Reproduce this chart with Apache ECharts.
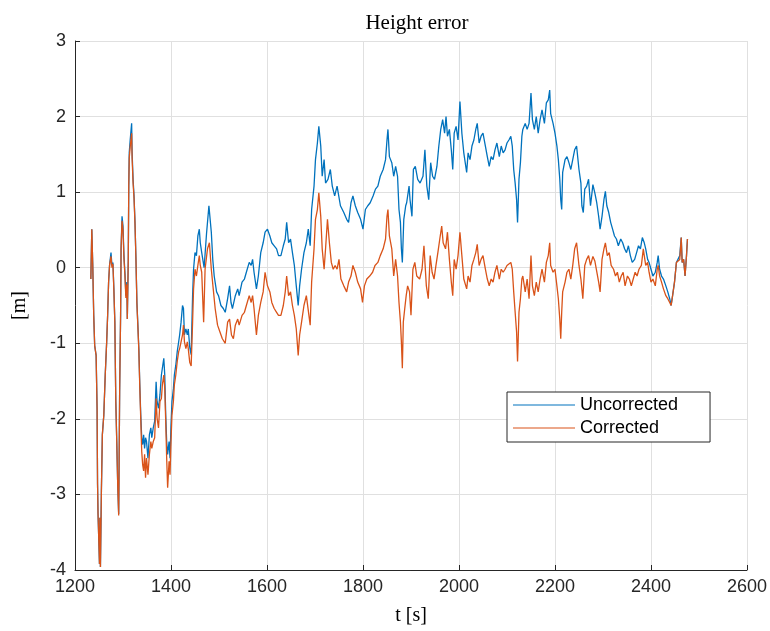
<!DOCTYPE html>
<html><head><meta charset="utf-8">
<script src="https://cdn.jsdelivr.net/npm/echarts@6/dist/echarts.min.js"></script>
<style>html,body{margin:0;padding:0;background:#fff}#c{width:770px;height:631px}</style>
</head><body><div id="c"></div>
<script>
// Time stamps [s] and height errors [m]
const tU = [1233,1235,1237,1239,1241,1244,1246,1247,1248,1251,1252,1253,1255,1257,1260,1263,1266,1268,1270,1272,1275,1277,1279,1281,1283,1285,1287,1289,1291,1292,1293,1295,1296,1298,1300,1302,1304,1306,1308,1309,1311,1312,1313,1315,1318,1319,1321,1323,1325,1327,1329,1331,1333,1335,1337,1339,1341,1343,1345,1347,1349,1352,1355,1358,1360,1363,1366,1369,1371,1374,1377,1380,1382,1385,1387,1389,1391,1393,1396,1398,1400,1402,1405,1407,1410,1413,1416,1418,1421,1424,1426,1428,1431,1434,1436,1439,1442,1445,1447,1450,1453,1456,1459,1461,
1464,1469,1474,1479,1484,1487,1490,1495,1499,1504,1509,1513,1518,1522,1525,1528,1534,1539,1542,1548,1553,1557,1563,1567,1570,1573,1578,1582,1587,1592,1596,1601,1606,1610,1615,1620,1624,1629,1634,1638,1641,1645,1649,1653,1657,1661,1665,1668,1672,1677,1682,1686,1690,1693,1698,1701,1705,1708,1712,1715,1719,1722,1727,1732,1736,1741,
1746,1753,1760,1766,1770,1775,1779,1784,1789,1795,1800,1805,1810,1815,1821,1826,1831,1836,1842,1847,1850,1852,1855,1860,1864,1868,1872,1875,1878,1880,1882,1885,1889,1891,1896,1898,1902,1905,1909,1914,1919,1925,1929,1933,1937,1941,1945,1949,1954,1958,1962,1966,1970,1973,1976,1980,1984,1987,1990,1994,1998,2002,2006,2010,2016,
2019,2023,2027,2031,2035,2038,2042,2046,2050,2055,2059,2063,2067,2071,2075,2079,2084,2088,2092,2096,2100,2104,2108,2111,2114,2117,2120,2122,2125,2128,2131,2133,2138,2142,2146,2150,2153,2157,2161,2165,2169,2173,2178,2182,2186,2189,2191,2196,2200,2204,2207,2210,2212,2214,2216,2221,2225,2229,2233,2237,2241,2245,2250,2254,2256,2259,2262,2266,2270,2274,2279,2283,2287,
2291,2294,2298,2302,2305,2308,2312,2316,2320,2324,2328,2332,2337,2341,2345,2349,2353,2357,2361,2366,2370,2374,2378,2382,2386,2389,2393,2396,2400,2404,2409,2413,2415,2418,2422,2426,2431,2435,2439,2442,2445,2449,2453,2457,2460,2463,2465,2468,2471,2474,2476];
const uncorrected = [-0.15,0.51,0.03,-0.63,-1.03,-1.16,-1.86,-2.87,-3.26,-3.92,-3.31,-3.96,-2.95,-2.21,-1.95,-1.42,-0.98,-0.63,-0.19,0.03,0.20,0.03,0.07,-0.28,-0.72,-1.77,-2.30,-2.87,-3.26,-2.52,-1.64,-0.63,0.25,0.68,0.55,0.16,-0.06,-0.37,-0.19,-0.68,0.11,1.08,1.52,1.69,1.91,1.52,1.17,0.95,0.60,0.11,-0.46,-0.76,-1.07,-1.55,-1.95,-2.25,-2.34,-2.21,-2.39,-2.25,-2.30,-2.52,-2.21,-2.12,-2.25,-2.12,-2.03,-1.51,-1.77,-1.86,-1.68,-1.42,-1.33,-1.20,-1.42,-1.95,-2.30,-2.47,-2.30,-2.52,-2.08,-1.77,-1.60,-1.42,-1.29,-1.11,-0.98,-0.89,-0.72,-0.50,-0.54,-0.89,-0.81,-0.89,-0.81,-1.05,-1.15,-0.37,-0.02,0.20,0.16,0.42,0.51,0.33,
0.20,0.00,0.45,0.82,0.47,0.11,-0.11,-0.32,-0.37,-0.50,-0.54,-0.59,-0.41,-0.24,-0.46,-0.54,-0.37,-0.28,-0.37,-0.19,-0.15,-0.06,0.07,0.03,0.11,-0.06,-0.28,-0.11,0.20,0.33,0.47,0.51,0.42,0.33,0.29,0.25,0.16,0.16,0.29,0.38,0.60,0.33,0.38,0.20,0.03,-0.24,-0.50,-0.24,-0.02,0.20,0.33,0.51,0.29,0.77,1.08,1.43,1.65,1.87,1.61,1.21,1.43,1.12,1.17,1.30,1.08,0.95,
1.08,0.82,0.73,0.64,0.60,0.86,0.95,0.82,0.73,0.64,0.51,0.77,0.82,0.86,0.95,1.04,1.08,1.21,1.30,1.43,1.69,1.83,1.47,1.39,1.21,1.34,1.21,0.77,0.60,0.25,0.07,0.64,0.82,0.86,1.08,0.90,0.68,1.30,1.34,1.17,1.12,1.21,1.56,1.08,0.90,1.39,1.21,1.17,1.34,1.61,1.83,1.96,1.78,2.00,1.74,1.83,1.56,1.30,1.78,1.87,1.69,2.20,1.78,1.52,1.26,
1.52,1.43,1.61,1.69,1.83,1.91,1.65,1.74,1.78,1.61,1.47,1.34,1.47,1.43,1.56,1.65,1.47,1.61,1.52,1.56,1.65,1.69,1.74,1.61,1.30,1.12,0.90,0.60,1.17,1.39,1.74,1.83,1.91,1.83,1.91,2.31,1.96,1.83,2.00,1.78,1.96,2.09,1.91,2.18,2.22,2.35,2.04,1.91,1.78,1.61,1.43,1.17,0.90,0.77,1.26,1.43,1.47,1.39,1.30,1.43,1.56,1.61,1.30,1.12,0.82,0.73,1.04,1.08,1.17,0.82,1.10,0.99,0.86,
0.68,0.51,0.68,0.90,1.01,0.82,0.73,0.60,0.51,0.42,0.38,0.29,0.38,0.33,0.25,0.20,0.29,0.16,0.07,0.11,0.20,0.29,0.25,0.40,0.33,0.25,0.11,0.07,-0.02,-0.11,-0.06,0.07,0.16,-0.02,-0.11,-0.15,-0.24,-0.32,-0.41,-0.50,-0.37,-0.19,0.07,0.07,0.16,0.40,0.07,0.11,-0.11,0.16,0.38];

const tC = [1233,1235,1237,1239,1241,1244,1246,1247,1248,1251,1252,1253,1255,1257,1260,1263,1266,1268,1270,1272,1275,1277,1279,1281,1283,1285,1287,1289,1291,1292,1293,1295,1296,1298,1300,1302,1304,1306,1308,1309,1311,1312,1313,1315,1318,1319,1321,1323,1325,1327,1329,1331,1333,1335,1337,1339,1341,1343,1345,1347,1349,1352,1355,1358,1360,1363,1366,1369,1371,1374,1377,1380,1382,1385,1387,1389,1391,1393,1396,1398,1400,1402,1405,1407,1410,1413,1416,1418,1421,1424,1426,1428,1431,1434,1436,1439,1442,1445,1447,1450,1453,1456,1459,1461,
1464,1468,1471,1476,1480,1484,1488,1492,1497,1502,1507,1513,1518,1522,1526,1530,1534,1539,1542,1548,1553,1557,1563,1567,1570,1573,1578,1582,1587,1592,1596,1601,1606,1610,1615,1620,1624,1629,1634,1638,1641,1645,1649,1653,1657,1661,1665,1668,1672,1677,1682,1686,1690,1693,1698,1701,1705,1708,1712,1715,1719,1722,1726,1730,1734,1738,1742,
1746,1750,1754,1760,1766,1770,1775,1779,1784,1789,1795,1799,1803,1808,1814,1820,1825,1831,1836,1842,1847,1850,1852,1855,1860,1864,1868,1872,1875,1878,1880,1882,1884,1887,1890,1893,1897,1900,1904,1908,1912,1918,1923,1927,1932,1936,1940,1944,1948,1952,1956,1960,1964,1967,1972,1976,1980,1984,1987,1990,1994,1998,2002,2006,2010,2016,
2019,2023,2027,2031,2035,2038,2042,2046,2050,2055,2059,2063,2067,2071,2075,2079,2084,2088,2092,2096,2100,2104,2108,2111,2114,2117,2120,2122,2125,2128,2131,2133,2138,2142,2146,2150,2153,2157,2161,2165,2169,2173,2178,2182,2186,2189,2191,2196,2200,2204,2207,2210,2212,2214,2216,2221,2225,2229,2233,2237,2241,2245,2250,2254,2258,2262,2266,2270,2274,2279,2283,2287,
2291,2294,2298,2302,2305,2309,2313,2317,2322,2326,2330,2334,2338,2342,2346,2351,2355,2359,2363,2367,2371,2375,2380,2384,2386,2389,2393,2396,2400,2404,2409,2413,2415,2418,2422,2426,2431,2435,2439,2442,2445,2449,2453,2457,2460,2463,2465,2468,2471,2474,2476];
const corrected = [-0.15,0.51,0.03,-0.63,-1.03,-1.16,-1.86,-2.87,-3.26,-3.92,-3.31,-3.96,-2.95,-2.21,-1.95,-1.42,-0.98,-0.63,-0.19,0.03,0.15,0.00,0.05,-0.30,-0.72,-1.77,-2.30,-2.87,-3.28,-2.52,-1.64,-0.63,0.25,0.62,0.50,0.12,-0.10,-0.40,-0.22,-0.68,0.11,1.08,1.45,1.60,1.78,1.45,1.12,0.92,0.58,0.11,-0.48,-0.78,-1.10,-1.58,-2.00,-2.43,-2.61,-2.69,-2.47,-2.78,-2.52,-2.74,-2.47,-2.30,-2.39,-2.30,-2.25,-1.73,-1.99,-2.12,-1.77,-1.73,-1.55,-1.42,-1.60,-2.03,-2.52,-2.91,-2.56,-2.74,-2.30,-1.95,-1.77,-1.55,-1.42,-1.24,-1.11,-1.07,-0.98,-0.89,-0.76,-0.98,-1.07,-0.98,-1.07,-1.25,-1.30,-0.72,-0.28,-0.02,-0.11,0.03,0.16,0.03,
-0.06,-0.72,-0.02,0.25,0.33,-0.02,-0.28,-0.54,-0.76,-0.85,-0.94,-1.00,-0.72,-0.68,-0.89,-0.94,-0.76,-0.68,-0.76,-0.63,-0.59,-0.50,-0.37,-0.46,-0.37,-0.54,-0.89,-0.63,-0.46,-0.32,-0.06,-0.24,-0.32,-0.46,-0.54,-0.59,-0.63,-0.63,-0.50,-0.32,-0.11,-0.37,-0.32,-0.50,-0.63,-0.81,-1.16,-0.89,-0.72,-0.50,-0.37,-0.37,-0.76,-0.19,0.25,0.64,0.77,0.99,0.68,0.25,-0.02,0.25,0.64,0.33,0.07,-0.02,0.03,
-0.02,0.11,-0.15,-0.24,-0.32,-0.19,-0.11,0.03,-0.06,-0.19,-0.28,-0.46,-0.24,-0.15,-0.11,-0.06,0.03,0.07,0.16,0.25,0.38,0.68,0.77,0.42,0.25,-0.11,0.11,-0.11,-0.46,-0.72,-0.98,-1.33,-0.72,-0.54,-0.37,-0.24,-0.32,-0.63,-0.02,0.07,-0.11,-0.15,-0.02,0.29,-0.24,-0.41,0.16,-0.06,-0.15,0.03,0.20,0.38,0.55,0.33,0.25,0.47,0.11,-0.19,-0.37,0.11,-0.02,0.16,0.47,0.16,-0.15,-0.28,
-0.11,-0.19,0.03,0.11,0.20,0.31,0.03,0.11,0.16,-0.02,-0.15,-0.24,-0.15,-0.19,-0.06,0.03,-0.15,-0.02,-0.06,-0.02,0.03,0.03,0.07,-0.02,-0.32,-0.59,-0.85,-1.24,-0.59,-0.41,-0.15,-0.11,-0.32,-0.15,-0.41,0.16,-0.24,-0.37,-0.19,-0.32,-0.15,-0.02,-0.19,0.07,0.16,0.33,0.03,-0.06,-0.02,-0.24,-0.41,-0.68,-0.94,-0.59,-0.32,-0.19,-0.06,-0.02,-0.15,0.03,0.25,0.33,0.03,-0.15,-0.41,0.03,0.11,0.16,0.03,0.15,0.09,0.07,
-0.19,-0.32,0.11,0.25,0.33,0.16,0.20,0.03,-0.02,-0.11,-0.06,-0.19,-0.11,-0.06,-0.24,-0.11,-0.15,-0.24,-0.15,-0.06,-0.11,-0.02,0.03,0.25,0.16,0.03,0.07,-0.06,-0.19,-0.15,-0.24,-0.02,0.03,-0.11,-0.19,-0.28,-0.37,-0.41,-0.46,-0.50,-0.37,-0.19,0.07,0.07,0.11,0.40,0.07,0.11,-0.11,0.16,0.38];

const seriesNames = ['Uncorrected', 'Corrected'];
const xTicks = {min: 1200, max: 2600, step: 200};
const yTicks = {min: -4, max: 3, step: 1};

const pairs = (t, v) => t.map((x, i) => [x, v[i]]);

const chart = echarts.init(document.getElementById('c'), null, {renderer: 'canvas'});
const axisCommon = {
  axisLine: {show: true, onZero: false, lineStyle: {color: '#262626', width: 1}},
  axisTick: {show: true, inside: true, length: 5, lineStyle: {color: '#262626'}},
  splitLine: {show: true, lineStyle: {color: '#e0e0e0', width: 1}},
  axisLabel: {fontFamily: 'Liberation Sans', fontSize: 18, color: '#262626', formatter: v => String(v)}
};
chart.setOption({
  animation: false,
  backgroundColor: '#ffffff',
  title: {
    text: 'Height error', left: 412, top: 8, textAlign: 'center',
    textStyle: {fontFamily: 'Liberation Serif', fontWeight: 'normal', fontSize: 21, color: '#000'}
  },
  grid: {left: 75, right: 20, top: 41, bottom: 58, containLabel: false},
  xAxis: Object.assign({}, axisCommon, {
    type: 'value', min: xTicks.min, max: xTicks.max, interval: xTicks.step,
    name: 't [s]', nameLocation: 'middle', nameGap: 36,
    nameTextStyle: {fontFamily: 'Liberation Serif', fontSize: 20, color: '#000'},
    axisLabel: Object.assign({}, axisCommon.axisLabel, {margin: 8})
  }),
  yAxis: Object.assign({}, axisCommon, {
    type: 'value', min: yTicks.min, max: yTicks.max, interval: yTicks.step,
    name: '[m]', nameLocation: 'middle', nameGap: 45,
    nameTextStyle: {fontFamily: 'Liberation Serif', fontSize: 20, color: '#000'},
    axisLabel: Object.assign({}, axisCommon.axisLabel, {margin: 9})
  }),
  legend: {
    data: seriesNames, orient: 'vertical', left: 507, top: 392,
    backgroundColor: '#ffffff', borderColor: '#262626', borderWidth: 1, borderRadius: 0,
    padding: [3, 32, 4, 6], itemGap: 3, itemWidth: 62, itemHeight: 1, icon: 'rect',
    textStyle: {fontFamily: 'Liberation Sans', fontSize: 18, color: '#000', lineHeight: 20}
  },
  series: [
    {name: seriesNames[0], type: 'line', data: pairs(tU, uncorrected), symbol: 'none', showSymbol: false,
     lineStyle: {width: 1.3, color: '#0072BD'}, itemStyle: {color: '#0072BD'}, sampling: null},
    {name: seriesNames[1], type: 'line', data: pairs(tC, corrected), symbol: 'none', showSymbol: false,
     lineStyle: {width: 1.3, color: '#D95319'}, itemStyle: {color: '#D95319'}, sampling: null}
  ]
});
</script>
</body></html>
